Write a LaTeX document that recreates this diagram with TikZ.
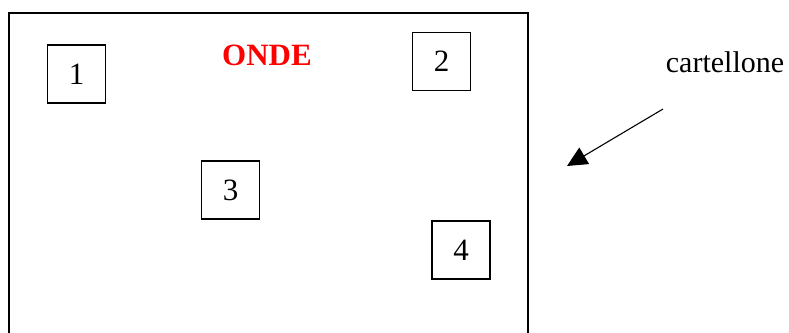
\documentclass[tikz,border=0pt]{standalone}
\usepackage{fontspec}
\setmainfont{Liberation Serif}
\usetikzlibrary{arrows.meta}
\begin{document}
\begin{tikzpicture}[x=1pt,y=1pt,
  numbox/.style={draw, line width=1.2pt, minimum width=58pt, minimum height=58pt, inner sep=0pt, font=\fontsize{31}{36}\selectfont},
  board/.style={draw, line width=1.2pt},
  title/.style={text=red, font=\fontsize{31}{36}\selectfont\bfseries, inner sep=0pt, anchor=base},
  label/.style={font=\fontsize{30}{36}\selectfont, inner sep=0pt, anchor=base},
  pointer/.style={line width=1.1pt, -{Triangle[length=20pt,width=19pt]}}]
\useasboundingbox (0,0) rectangle (789,-332);
\fill[white] (0,0) rectangle (789,-332);
\begin{scope}
\clip (0,0) rectangle (789,-332);
\draw[board] (9,-345) -- (9,-13) -- (528,-13) -- (528,-345);
\end{scope}
\node[numbox] (b1) at (76.5,-74) {1};
\node[numbox] (b2) at (441.5,-61.5) {2};
\node[numbox] (b3) at (230.5,-190) {3};
\node[numbox] (b4) at (461,-250) {4};
\node[title] (onde) at (267,-65) {ONDE};
\node[label] (cart) at (725,-72) {cartellone};
\coordinate (arrstart) at (663,-109);
\coordinate (arrtip) at (567,-166);
\draw[pointer] (arrstart) -- (arrtip);
\end{tikzpicture}
\end{document}
